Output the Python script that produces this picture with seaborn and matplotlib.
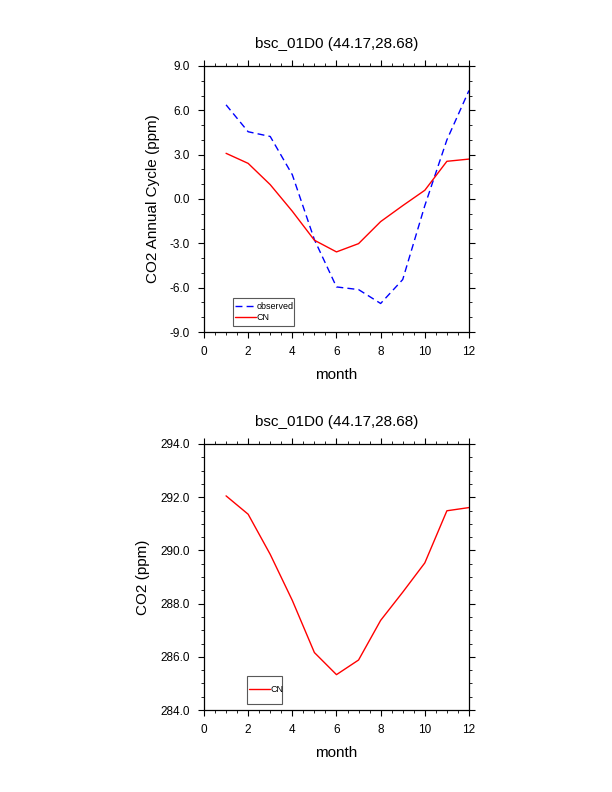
import numpy as np
import pandas as pd
import matplotlib
matplotlib.use('Agg')
import matplotlib.pyplot as plt
import seaborn as sns
from matplotlib.patches import Rectangle
from matplotlib.ticker import MultipleLocator, FormatStrFormatter

# values
months = list(range(1, 13))
observed_cycle = [6.37, 4.55, 4.23, 1.64, -2.75, -5.95, -6.13, -7.07, -5.45, -0.45, 4.0, 7.34]
cn_cycle = [3.09, 2.41, 0.97, -0.83, -2.79, -3.58, -3.02, -1.53, -0.45, 0.59, 2.55, 2.70]
cn_co2 = [292.05, 291.36, 289.85, 288.12, 286.16, 285.33, 285.88, 287.37, 288.43, 289.53, 291.49, 291.61]
title = "bsc_01D0 (44.17,28.68)"

sns.set_style("ticks")
plt.rcParams['font.family'] = ['Liberation Sans', 'DejaVu Sans']
plt.rcParams['text.color'] = 'black'
plt.rcParams['axes.labelcolor'] = 'black'
plt.rcParams['axes.edgecolor'] = 'black'

cycle_df = pd.DataFrame({'month': months, 'observed': observed_cycle, 'CN': cn_cycle})
co2_df = pd.DataFrame({'month': months, 'CN': cn_co2})

W, H = 612, 792
fig = plt.figure(figsize=(W / 100, H / 100), dpi=100)
ax1 = fig.add_axes([0.3333, 0.5808, 0.433, 0.3359])
ax2 = fig.add_axes([0.3333, 0.1035, 0.433, 0.3359])


def style_axis(ax, ymin, ymax, ymajor, yminor, ylabel):
    ax.set_xlim(0, 12)
    ax.set_ylim(ymin, ymax)
    ax.xaxis.set_major_locator(MultipleLocator(2))
    ax.xaxis.set_minor_locator(MultipleLocator(0.5))
    ax.yaxis.set_major_locator(MultipleLocator(ymajor))
    ax.yaxis.set_minor_locator(MultipleLocator(yminor))
    ax.yaxis.set_major_formatter(FormatStrFormatter('%.1f'))
    ax.tick_params(which='both', direction='out', top=True, right=True,
                   colors='black', labelsize=8.5)
    ax.tick_params(which='major', length=4.3, width=0.8, pad=6)
    ax.tick_params(which='minor', length=2.2, width=0.6)
    for s in ax.spines.values():
        s.set_visible(True)
        s.set_linewidth(0.9)
        s.set_color('black')
    ax.set_xlabel('month', fontsize=11, labelpad=7, color='black')
    ax.set_ylabel(ylabel, fontsize=11, labelpad=7, color='black')
    ax.set_title(title, fontsize=11, pad=13, color='black')


def boxed_legend(ax, box):
    # NCL-style legend: fixed box drawn separately, entries centred in it
    x0, y0, x1, y1 = box
    fig.add_artist(Rectangle((x0 / W, 1 - y1 / H), (x1 - x0) / W, (y1 - y0) / H,
                             transform=fig.transFigure, facecolor='white',
                             edgecolor='0.35', linewidth=0.8, zorder=5))
    leg = ax.legend(loc='center left',
                    bbox_to_anchor=((x0 + 2) / W, 1 - (y0 + y1) / 2 / H),
                    bbox_transform=fig.transFigure, fontsize=6.5, handlelength=2.3,
                    handletextpad=0.05, borderpad=0, borderaxespad=0,
                    labelspacing=0.25, frameon=False)
    leg.set_zorder(6)
    fig.legends.append(leg)
    ax.get_legend().remove()
    for t in leg.get_texts():
        t.set_color('black')
    return leg


sns.lineplot(data=cycle_df, x='month', y='observed', ax=ax1, color='#0000ff',
             linewidth=1.0, label='observed')
ax1.lines[-1].set_dashes((5, 3))
sns.lineplot(data=cycle_df, x='month', y='CN', ax=ax1, color='red',
             linewidth=1.0, label='CN')
style_axis(ax1, -9, 9, 3, 1, 'CO2 Annual Cycle (ppm)')
boxed_legend(ax1, (233, 298, 294, 326))

sns.lineplot(data=co2_df, x='month', y='CN', ax=ax2, color='red',
             linewidth=1.0, label='CN')
style_axis(ax2, 284, 294, 2, 0.5, 'CO2 (ppm)')
boxed_legend(ax2, (247, 676, 282, 704))

fig.savefig('out.png', dpi=100)
